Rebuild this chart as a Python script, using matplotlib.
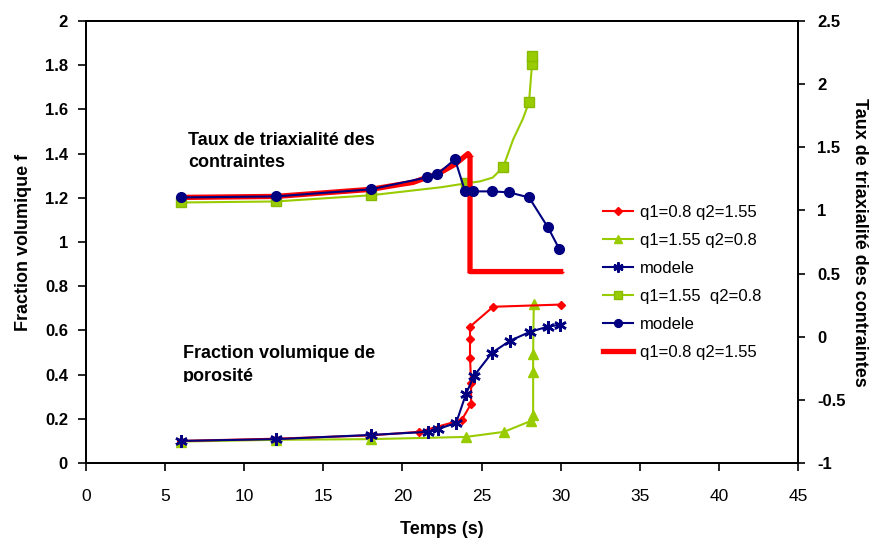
import matplotlib
matplotlib.use("Agg")
import matplotlib.pyplot as plt
from matplotlib.ticker import FuncFormatter
from matplotlib.transforms import Bbox

plt.rcParams['font.family'] = ['Liberation Sans', 'DejaVu Sans']
plt.rcParams['axes.unicode_minus'] = False

# porosity (left axis)
t_red_f = [6, 12, 18, 21.05, 23.75, 24.34, 24.34, 24.27, 24.27, 24.27, 25.73, 30.03]
f_red = [0.10, 0.11, 0.125, 0.141, 0.195, 0.268, 0.363, 0.476, 0.562, 0.617, 0.707, 0.717]

t_green_f = [6, 12, 18, 24.02, 26.42, 28.1, 28.26, 28.26, 28.26, 28.3]
f_green = [0.097, 0.105, 0.108, 0.118, 0.141, 0.19, 0.215, 0.414, 0.494, 0.72]

t_mod_f = [6, 12, 18, 21.6, 22.25, 23.39, 24.02, 24.53, 25.66, 26.8, 28.07, 29.2, 29.96]
f_mod = [0.10, 0.108, 0.127, 0.141, 0.154, 0.181, 0.313, 0.395, 0.499, 0.553, 0.594, 0.617, 0.626]

# triaxiality (right axis)
t_green_T = [6, 12, 18, 22.4, 24.0, 24.9, 25.7, 26.36, 27.0, 27.6, 28.0, 28.19, 28.19]
T_green = [1.063, 1.071, 1.12, 1.183, 1.214, 1.23, 1.26, 1.341, 1.563, 1.722, 1.857, 2.159, 2.222]

t_mod_T = [6, 12, 18, 21.55, 22.19, 23.32, 23.96, 24.46, 25.66, 26.74, 28.0, 29.2, 29.9]
T_mod = [1.103, 1.111, 1.167, 1.262, 1.286, 1.405, 1.151, 1.151, 1.151, 1.143, 1.103, 0.865, 0.698]

t_red_T = [6, 12, 18, 19.85, 20.67, 21.55, 22.19, 23.32, 24.15, 24.27, 24.27, 30.0]
T_red = [1.103, 1.111, 1.167, 1.206, 1.222, 1.262, 1.286, 1.365, 1.45, 1.43, 0.516, 0.516]

red = '#FF0000'
green = '#99CC00'
navy = '#000080'

fig = plt.figure(figsize=(8.73, 5.39), dpi=100)
ax = fig.add_axes([0.0985, 0.141, 0.8156, 0.820])
ax2 = ax.twinx()

l1, = ax.plot(t_red_f, f_red, color=red, lw=1.5, marker='D', ms=4.5,
              label='q1=0.8 q2=1.55', zorder=3)
l2, = ax.plot(t_green_f, f_green, color=green, lw=1.5, marker='^', ms=7,
              label='q1=1.55 q2=0.8', zorder=2)
l3, = ax.plot(t_mod_f, f_mod, color=navy, lw=1.5, marker=(6, 2, 0), ms=9,
              mew=1.8, label='modele', zorder=4)

l4, = ax2.plot(t_green_T, T_green, color=green, lw=1.5, marker='s', ms=6.5,
               markevery=[0, 1, 2, 4, 7, 10, 11, 12], mec='#88BB00',
               label='q1=1.55  q2=0.8', zorder=2)
l6, = ax2.plot(t_red_T, T_red, color=red, lw=3.8, marker='_', ms=5,
               label='q1=0.8 q2=1.55', zorder=3)
l5, = ax2.plot(t_mod_T, T_mod, color=navy, lw=1.5, marker='o', ms=7,
               label='modele', zorder=4)

ax.set_xlim(0, 45)
ax.set_ylim(0, 2)
ax2.set_ylim(-1, 2.5)
ax.set_xticks(range(0, 46, 5))
ax.set_yticks([i * 0.2 for i in range(11)])
ax2.set_yticks([-1 + i * 0.5 for i in range(8)])
fmt = FuncFormatter(lambda v, p: '%g' % round(v, 2))
ax.yaxis.set_major_formatter(fmt)
ax2.yaxis.set_major_formatter(fmt)

for a in (ax, ax2):
    for s in a.spines.values():
        s.set_linewidth(1.3)
ax.tick_params(axis='x', direction='out', length=6, width=1.2, pad=13,
               labelsize=12.5)
ax.tick_params(axis='y', direction='out', length=6, width=1.2, pad=7,
               labelsize=12)
ax2.tick_params(axis='y', direction='out', length=5, width=1.2, pad=9,
                labelsize=12)
for lab in ax.get_yticklabels() + ax2.get_yticklabels():
    lab.set_fontweight('bold')

ax.set_xlabel('Temps (s)', fontsize=13, fontweight='bold', labelpad=12)
ax.set_ylabel('Fraction volumique f', fontsize=13, fontweight='bold', labelpad=9)
ax2.set_ylabel('Taux de triaxialité des contraintes', fontsize=13,
               fontweight='bold', rotation=270, labelpad=16)

ax.text(6.45, 1.497, 'Taux de triaxialité des\ncontraintes', fontsize=13,
        fontweight='bold', va='top', ha='left', linespacing=1.4)
txt = ax.text(6.15, 0.535, 'Fraction volumique de\nporosité', fontsize=13,
              fontweight='bold', va='top', ha='left', linespacing=1.5)
txt.set_clip_box(Bbox.from_extents(0, 539 - 381.5, 873, 539))
txt.set_clip_on(True)

ax2.legend(handles=[l1, l2, l3, l4, l5, l6], loc='upper left',
           bbox_to_anchor=(603 / 873, 1 - 205 / 539), bbox_transform=fig.transFigure,
           frameon=False, fontsize=12, handlelength=1.8, handletextpad=0.4,
           labelspacing=0.78, borderpad=0, borderaxespad=0, markerscale=0.8)

fig.savefig('out.png', dpi=100)
